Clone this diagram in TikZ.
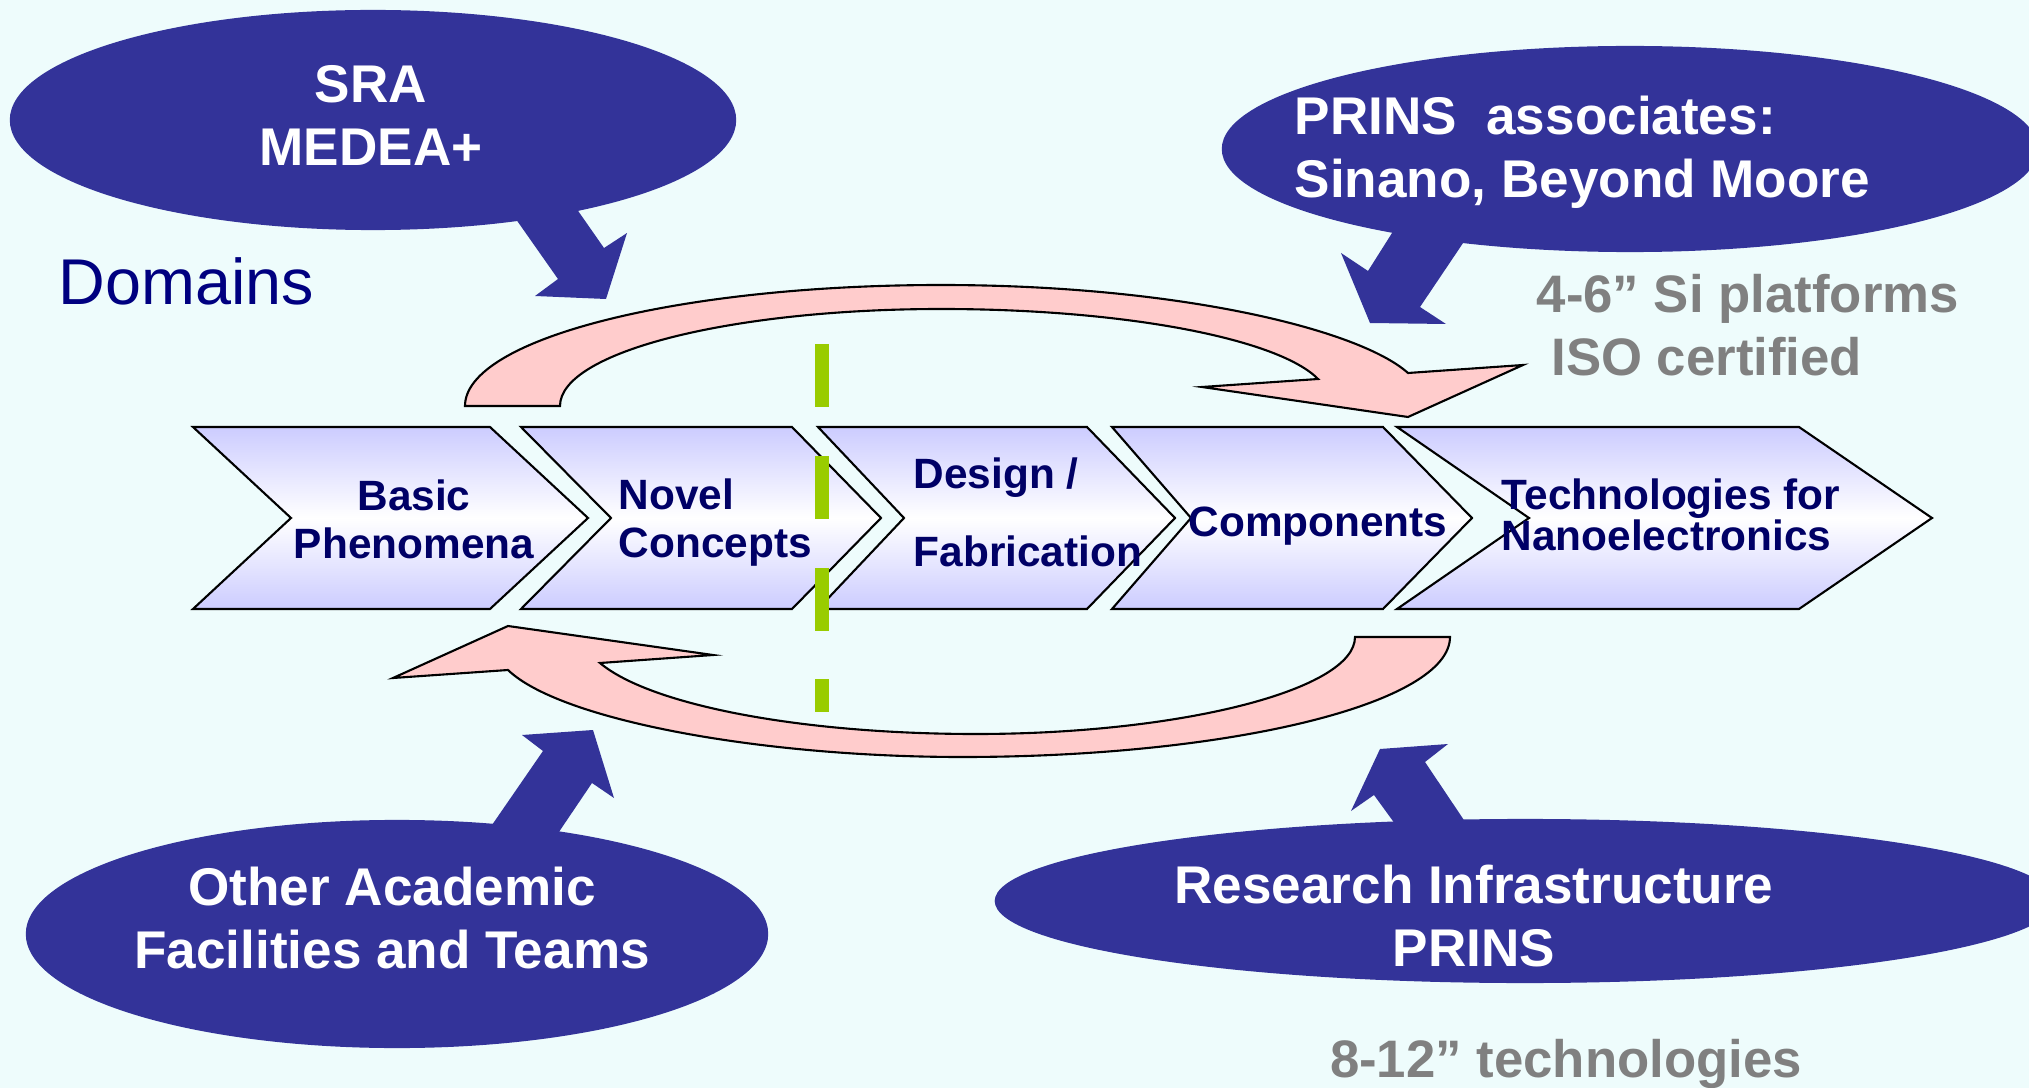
\documentclass[tikz,border=0pt]{standalone}
\usepackage{fontspec}
\setmainfont{Liberation Sans}
\usetikzlibrary{shapes.geometric}

\definecolor{bubbleblue}{RGB}{51,51,153}
\definecolor{stagenavy}{RGB}{0,0,102}
\definecolor{stagefill}{RGB}{204,204,255}
\definecolor{loopfill}{RGB}{255,204,204}
\definecolor{dashgreen}{RGB}{153,204,0}
\definecolor{backcyan}{RGB}{238,252,252}
\definecolor{domainblue}{RGB}{0,0,128}
\definecolor{notegray}{RGB}{128,128,128}

\begin{document}
\begin{tikzpicture}
    [
        x=0.01cm, y=-0.01cm,
        bubble/.style = {shape=ellipse, fill=bubbleblue, inner sep=0pt},
        bubbletext/.style = {text=white, font=\fontsize{15.1}{17.9}\selectfont\bfseries, inner sep=0pt},
        stage/.style = {draw=black, line width=0.6pt, top color=stagefill, bottom color=stagefill, middle color=white},
        stagetext/.style = {text=stagenavy, font=\fontsize{12.05}{13.66}\selectfont\bfseries, inner sep=0pt},
        note/.style = {text=notegray, font=\fontsize{15}{17.9}\selectfont\bfseries, inner sep=0pt},
        loop/.style = {draw=black, line width=0.6pt, fill=loopfill},
        feed/.style = {fill=bubbleblue},
    ]

    \useasboundingbox (0,0) rectangle (2029,1088);
    \fill[backcyan] (0,0) rectangle (2029,1088);

    \node[bubble, minimum width=7.26cm, minimum height=2.2cm] (sra) at (373,120) {};
    \node[bubble, minimum width=8.16cm, minimum height=2.06cm] (assoc) at (1630,149) {};
    \node[bubble, minimum width=7.42cm, minimum height=2.28cm] (academic) at (397,934) {};
    \node[bubble, minimum width=10.6cm, minimum height=1.64cm] (infra) at (1525,901) {};

    \fill[feed] (499,195) -- (558,279) -- (535,296) -- (606,299) -- (627,233) -- (604,248) -- (567,195) -- cycle;
    \fill[feed] (1411,203) -- (1368,271) -- (1341,253) -- (1370,323) -- (1446,324) -- (1420,307) -- (1490,203) -- cycle;
    \fill[feed] (472,854) -- (543,751) -- (522,735) -- (593,730) -- (614,798) -- (592,783) -- (540,860) -- cycle;
    \fill[feed] (1414,850) -- (1374,795) -- (1351,811) -- (1380,749) -- (1448,744) -- (1425,762) -- (1484,850) -- cycle;

    \foreach \l/\n/\r/\t in {193/291/490/588, 521/611/792/881, 818/904/1087/1175, 1112/1191/1383/1472, 1397/1529/1799/1932}
        \draw[stage] (\l,427) -- (\r,427) -- (\t,518) -- (\r,609) -- (\l,609) -- (\n,518) -- cycle;

    \filldraw[loop] (465,406) .. controls (465,339) and (678,285) .. (941,285)
        .. controls (1180,285) and (1360,330) .. (1408,373) -- (1523,365) -- (1408,417) -- (1202,387) -- (1318,379)
        .. controls (1280,340) and (1130,309) .. (941,309) .. controls (731,309) and (560,352) .. (560,406) -- cycle;
    \filldraw[loop] (1450,637) .. controls (1450,703) and (1232,757) .. (962,757)
        .. controls (760,757) and (560,720) .. (508,670) -- (393,678) -- (508,626) -- (713,655) -- (600,663)
        .. controls (650,705) and (800,734) .. (976,734) .. controls (1180,734) and (1355,690) .. (1355,637) -- cycle;

    \draw[dashgreen, line width=3.98pt, dash pattern=on 17.9pt off 13.9pt] (822,344) -- (822,712);

    \node[bubbletext, align=center] (sratext) at (371,115) {SRA\\MEDEA+};
    \node[bubbletext, align=left, anchor=west] (assoctext) at (1294,152) {PRINS\ \ associates:\\Sinano, Beyond Moore};
    \node[bubbletext, align=center] (academictext) at (392,918) {Other Academic\\Facilities and Teams};
    \node[bubbletext, align=center] (infratext) at (1474,916) {Research Infrastructure\\PRINS};

    \node[stagetext, align=center] (basic) at (414,519) {Basic\\Phenomena};
    \node[stagetext, align=left, anchor=west] (novel) at (618,523) {Novel\\Concepts};
    \node[stagetext, align=left, anchor=west] (design) at (913,512) {Design /\\[8.5pt]Fabrication};
    \node[stagetext, anchor=base] (components) at (1318,537) {Components};
    \node[stagetext, align=left, anchor=west] (nano) at (1501,515) {Technologies for\\[-2.1pt]Nanoelectronics};

    \node[text=domainblue, font=\fontsize{18.4}{22}\selectfont, inner sep=0pt, anchor=base west] (domains) at (58,305) {Domains};
    \node[note, align=left, anchor=west] (platforms) at (1536,325) {4-6” Si platforms\\\ ISO certified};
    \node[note, anchor=base] (technologies) at (1566,1077) {8-12” technologies};
\end{tikzpicture}
\end{document}
